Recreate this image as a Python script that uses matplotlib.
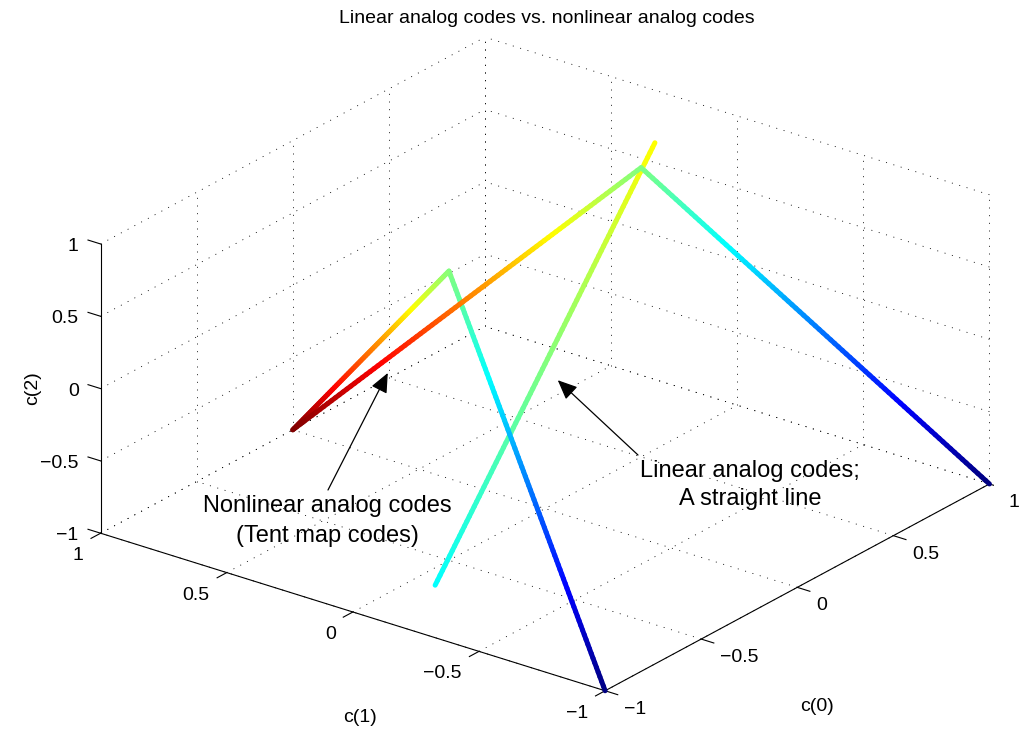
import numpy as np
import matplotlib
matplotlib.use("Agg")
import matplotlib.pyplot as plt
from matplotlib.colors import Normalize, LinearSegmentedColormap
from mpl_toolkits.mplot3d import proj3d
from mpl_toolkits.mplot3d.art3d import Line3DCollection

plt.rcParams["font.family"] = ["Liberation Sans", "DejaVu Sans"]

# Tent map code vertices: c(0) = x, c(1) = T(x), c(2) = T(T(x))
tent_c0 = [-1.0, -0.5, 0.0, 0.5, 1.0]
tent_c1 = [-1.0, 0.0, 1.0, 0.0, -1.0]
tent_c2 = [-1.0, 1.0, -1.0, 1.0, -1.0]

# Linear analog code: end points of a straight line through the origin
lin_c0 = [-0.9, 0.9]
lin_c1 = [-0.25, 0.25]
lin_c2 = [-0.75, 0.75]

ticks = [-1.0, -0.5, 0.0, 0.5, 1.0]
tick_labels = ["\u22121", "\u22120.5", "0", "0.5", "1"]

title = "Linear analog codes vs. nonlinear analog codes"
tent_text = ["Nonlinear analog codes", "(Tent map codes)"]
lin_text = ["Linear analog codes;", "A straight line"]
tent_arrow_tip = (0.14, 0.73, -0.56)
lin_arrow_tip = (0.04, -0.02, -0.13)

W, H = 1021, 731
fig = plt.figure(figsize=(W / 100, H / 100), dpi=100)
fig.patch.set_facecolor("white")
side = 923.5
ax = fig.add_axes([70.8 / W, -107.2 / H, side / W, side / H],
                  projection="3d", computed_zorder=False)
ax.set_proj_type("ortho")
ax.view_init(elev=24.2, azim=-142.7)
ax.set_box_aspect((1, 1, 0.5))
ax.set_axis_off()

# classic jet colour map
jet = LinearSegmentedColormap("jet_classic", {
    "red":   [(0, 0, 0), (0.375, 0, 0), (0.625, 1, 1), (0.875, 1, 1), (1, 0.5, 0.5)],
    "green": [(0, 0, 0), (0.125, 0, 0), (0.375, 1, 1), (0.625, 1, 1), (0.875, 0, 0), (1, 0, 0)],
    "blue":  [(0, 0.5, 0.5), (0.125, 1, 1), (0.375, 1, 1), (0.625, 0, 0), (1, 0, 0)],
}, N=256)
norm = Normalize(-1, 1)


def gradient_line(c0, c1, c2, zorder, n=90):
    """Polyline coloured by c(1) with interpolated jet colours."""
    pts = np.column_stack([c0, c1, c2]).astype(float)
    segs, vals = [], []
    for p, q in zip(pts[:-1], pts[1:]):
        t = np.linspace(0.0, 1.0, n + 1)[:, None]
        sub = p + (q - p) * t
        segs.extend(np.stack([sub[:-1], sub[1:]], axis=1))
        vals.extend(0.5 * (sub[:-1, 1] + sub[1:, 1]))
    lc = Line3DCollection(segs, colors=jet(norm(np.array(vals))),
                          linewidths=3.6, capstyle="round",
                          joinstyle="round", zorder=zorder)
    ax.add_collection3d(lc)


# dotted grid on the three back planes
grid_kw = dict(color="k", lw=0.6, linestyle=(0, (1.2, 8)), zorder=1)
for t in ticks:
    ax.plot([t, t], [-1, 1], [-1, -1], **grid_kw)
    ax.plot([-1, 1], [t, t], [-1, -1], **grid_kw)
    ax.plot([t, t], [1, 1], [-1, 1], **grid_kw)
    ax.plot([-1, 1], [1, 1], [t, t], **grid_kw)
    ax.plot([1, 1], [t, t], [-1, 1], **grid_kw)
    ax.plot([1, 1], [-1, 1], [t, t], **grid_kw)

# solid axis lines with outward ticks
axis_kw = dict(color="k", lw=0.8, zorder=2)
ax.plot([-1, 1], [-1, -1], [-1, -1], **axis_kw)
ax.plot([-1, -1], [-1, 1], [-1, -1], **axis_kw)
ax.plot([-1, -1], [1, 1], [-1, 1], **axis_kw)
tl = 0.05
for t in ticks:
    ax.plot([t, t], [-1, -1 - tl], [-1, -1], **axis_kw)
    ax.plot([-1, -1 - tl], [t, t], [-1, -1], **axis_kw)
    ax.plot([-1, -1], [1, 1 + tl], [t, t], **axis_kw)

gradient_line(tent_c0, tent_c1, tent_c2, zorder=4)
gradient_line(lin_c0, lin_c1, lin_c2, zorder=3)

ax.set_xlim(-1, 1)
ax.set_ylim(-1, 1)
ax.set_zlim(-1, 1)


def screen(p):
    x2, y2, _ = proj3d.proj_transform(p[0], p[1], p[2], ax.get_proj())
    return (x2, y2)


fs = 14
lab_kw = dict(textcoords="offset pixels", fontsize=fs, va="baseline",
              annotation_clip=False)
for t, s in zip(ticks, tick_labels):
    ax.annotate(s, screen((t, -1, -1)), xytext=(19, -23), ha="left", **lab_kw)
    ax.annotate(s, screen((-1, t, -1)), xytext=(-17, -27), ha="right", **lab_kw)
    ax.annotate(s, screen((-1, 1, t)), xytext=(-22, -7), ha="right", **lab_kw)

name_kw = dict(textcoords="offset pixels", fontsize=fs, ha="center",
               va="center", annotation_clip=False)
ax.annotate("c(0)", screen((0, -1, -1)), xytext=(20, -119), **name_kw)
ax.annotate("c(1)", screen((-1, 0, -1)), xytext=(7, -106), **name_kw)
ax.annotate("c(2)", screen((-1, 1, 0)), xytext=(-68, 0), rotation=90, **name_kw)

fig.text(547 / W, 1 - 23 / H, title, ha="center", va="baseline", fontsize=fs)

arrow_kw = dict(arrowstyle="-|>,head_length=0.8,head_width=0.35", color="k",
                lw=0.9, mutation_scale=15, shrinkA=0, shrinkB=0)
ax.annotate("", xy=screen(tent_arrow_tip), xytext=(328 / W, 1 - 490 / H),
            textcoords="figure fraction", arrowprops=arrow_kw,
            annotation_clip=False)
ax.annotate("", xy=screen(lin_arrow_tip), xytext=(638 / W, 1 - 455 / H),
            textcoords="figure fraction", arrowprops=arrow_kw,
            annotation_clip=False)

big = 17
for line, base in zip(tent_text, (512, 542)):
    fig.text(327 / W, 1 - base / H, line, ha="center", va="baseline", fontsize=big)
for line, base in zip(lin_text, (477, 505)):
    fig.text(750 / W, 1 - base / H, line, ha="center", va="baseline", fontsize=big)

fig.savefig("out.png", dpi=100, facecolor="white")
